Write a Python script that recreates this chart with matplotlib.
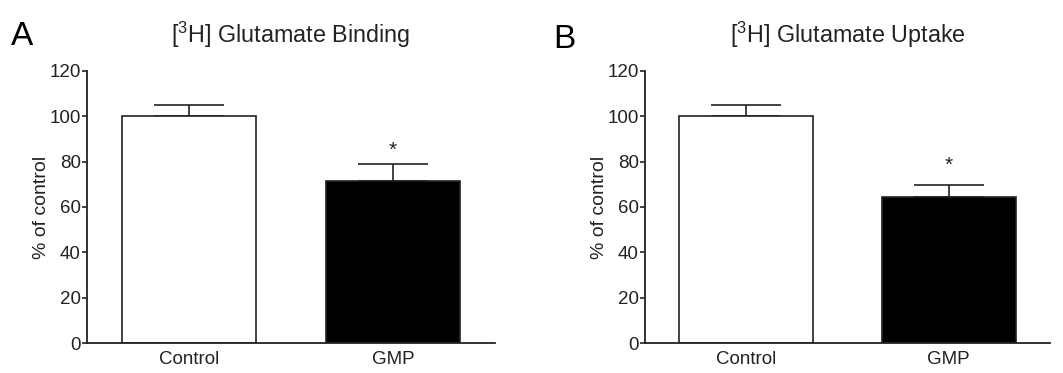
"""Glutamate binding and uptake bar charts (% of control)."""

import matplotlib

matplotlib.use("Agg")

import matplotlib.pyplot as plt

plt.rcParams["font.family"] = ["Liberation Sans", "DejaVu Sans"]
plt.rcParams["mathtext.default"] = "regular"

groups = ["Control", "GMP"]
binding_mean = [100.0, 71.5]
binding_sem = [5.0, 7.5]
uptake_mean = [100.0, 64.5]
uptake_sem = [5.0, 5.3]
star_height = [85.0, 78.5]
yticks = [0, 20, 40, 60, 80, 100, 120]

INK = "#222222"


def draw_panel(ax, means, sems, title, star_y, axis_px):
    x = list(range(len(groups)))
    ax.bar(x, means, width=0.66, color=["white", "black"], edgecolor=INK,
           linewidth=1.2, zorder=2)
    ax.errorbar(x, means, yerr=[[0] * len(sems), sems], fmt="none", ecolor=INK,
                elinewidth=1.2, capsize=25, capthick=1.2, zorder=1)
    ax.text(1, star_y, "*", ha="center", va="center", fontsize=15, color=INK)
    ax.set_xlim(-0.5, 1.5)
    ax.set_ylim(0, 120)
    ax.set_yticks(yticks)
    ax.set_xticks(x)
    ax.set_xticklabels(groups)
    ax.tick_params(axis="x", length=0, pad=6, labelsize=13.5, colors=INK)
    ax.tick_params(axis="y", length=3.5, width=1.2, pad=1, labelsize=13.5, colors=INK)
    for side in ("top", "right"):
        ax.spines[side].set_visible(False)
    for side in ("left", "bottom"):
        ax.spines[side].set_linewidth(1.3)
        ax.spines[side].set_color(INK)
    ax.set_ylabel("% of control", fontsize=14, color=INK)
    ax.yaxis.set_label_coords(-37 / axis_px, 0.5)
    ax.set_title(title, fontsize=16.8, color=INK, pad=20)


fig = plt.figure(figsize=(10.63, 3.73), dpi=100)
ax_a = fig.add_axes([0.0818, 0.0804, 0.3839, 0.7293])
ax_b = fig.add_axes([0.6068, 0.0804, 0.3810, 0.7293])

draw_panel(ax_a, binding_mean, binding_sem,
           "[$^{3}$H] Glutamate Binding", star_height[0], 408)
draw_panel(ax_b, uptake_mean, uptake_sem,
           "[$^{3}$H] Glutamate Uptake", star_height[1], 405)

fig.text(0.010, 0.901, "A", fontsize=24, color="black", ha="left", va="center")
fig.text(0.520, 0.894, "B", fontsize=24, color="black", ha="left", va="center")

fig.savefig("out.png", dpi=100)
